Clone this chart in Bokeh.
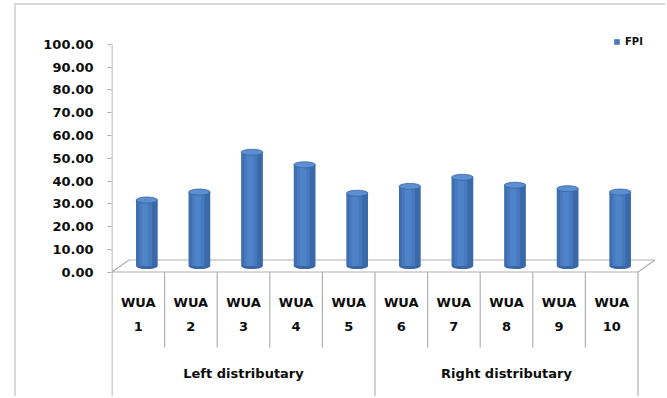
from bokeh.plotting import figure
from bokeh.models import Range1d, FixedTicker, PrintfTickFormatter, Legend, LegendItem
from bokeh.core.properties import value
from bokeh.embed import file_html
from bokeh.resources import INLINE

# ---- data ----
categories = ["WUA 1", "WUA 2", "WUA 3", "WUA 4", "WUA 5",
              "WUA 6", "WUA 7", "WUA 8", "WUA 9", "WUA 10"]
fpi = [29, 32.5, 50, 44.5, 32, 35, 39, 35.5, 34, 32.5]
groups = ["Left distributary", "Right distributary"]
group_sizes = [5, 5]
y_ticks = [0, 10, 20, 30, 40, 50, 60, 70, 80, 90, 100]
series_name = "FPI"

# ---- geometry (style) ----
n = len(categories)
DEPTH_X = 0.323
DEPTH_Y = 5.27
BAR_W = 0.41
CAP_H = 2.64
Y_START = -55.6
Y_END = 117.14
FONT = value("DejaVu Sans")
TXT = "#0d0d0d"
LINE = "#b0b0b0"

p = figure(width=651, height=393,
           x_range=Range1d(-0.0095, 10.561), y_range=Range1d(Y_START, Y_END),
           output_backend="svg", toolbar_location=None,
           min_border_left=95, min_border_right=0, min_border_top=0, min_border_bottom=0,
           margin=(3, 0, 0, 14))
p.styles = {"border-top": "2px solid #d9d9d9", "border-left": "2px solid #d9d9d9"}
p.outline_line_color = None
p.xaxis.visible = False
p.xgrid.visible = False
p.ygrid.visible = False
p.background_fill_color = "white"
p.border_fill_color = "white"

ya = p.yaxis[0]
ya.ticker = FixedTicker(ticks=y_ticks)
ya.formatter = PrintfTickFormatter(format="%.2f")
ya.axis_line_color = None
ya.major_tick_in = 0
ya.major_tick_out = 4
ya.major_tick_line_color = LINE
ya.minor_tick_line_color = None
ya.major_label_standoff = 14
ya.major_label_text_font = "DejaVu Sans"
ya.major_label_text_font_style = "bold"
ya.major_label_text_font_size = "13px"
ya.major_label_text_color = TXT

# floor
p.patch([0, n, n + DEPTH_X, DEPTH_X], [0, 0, DEPTH_Y, DEPTH_Y],
        fill_color="white", line_color=LINE, line_width=1.2)

# axis line
p.segment(x0=[0], y0=[y_ticks[-1]], x1=[0], y1=[Y_START], line_color=LINE, line_width=1.2)

# dividers
bounds = list(range(n + 1))
group_bounds = [0]
for s in group_sizes:
    group_bounds.append(group_bounds[-1] + s)
inner = [b for b in bounds if b not in group_bounds]
p.segment(x0=inner, y0=[0] * len(inner), x1=inner, y1=[-33.2] * len(inner),
          line_color=LINE, line_width=1.2)
gb = group_bounds[1:]
p.segment(x0=gb, y0=[0] * len(gb), x1=gb, y1=[Y_START] * len(gb),
          line_color=LINE, line_width=1.2)

# cylinders
xc = [i + 0.5 + DEPTH_X / 2 for i in range(n)]
base = DEPTH_Y / 2
tops = [base + v for v in fpi]
p.ellipse(x=xc, y=[base] * n, width=BAR_W, height=CAP_H, fill_color="#3a67a4", line_color=None)
body = p.vbar(x=xc, width=BAR_W, bottom=base, top=tops, fill_color="#4679bd", line_color=None)
p.vbar(x=[x + BAR_W * 0.37 for x in xc], width=BAR_W * 0.26, bottom=base, top=tops,
       fill_color="#325d98", fill_alpha=0.55, line_color=None)
p.vbar(x=[x - BAR_W * 0.43 for x in xc], width=BAR_W * 0.14, bottom=base, top=tops,
       fill_color="#325d98", fill_alpha=0.35, line_color=None)
p.vbar(x=[x - BAR_W * 0.08 for x in xc], width=BAR_W * 0.3, bottom=base, top=tops,
       fill_color="#5c90d3", fill_alpha=0.45, line_color=None)
p.ellipse(x=xc, y=tops, width=BAR_W, height=CAP_H, fill_color="#5c8fd1",
          line_color="#36649f", line_width=0.8)

# category labels
p.text(x=[i + 0.5 for i in range(n)], y=[-18.8] * n,
       text=[c.replace(" ", "\n") for c in categories],
       text_align="center", text_baseline="middle", text_line_height=1.6,
       text_font=FONT, text_font_style="bold", text_font_size="13px", text_color=TXT)

# group labels
gcent = [(group_bounds[i] + group_bounds[i + 1]) / 2 for i in range(len(groups))]
p.text(x=gcent, y=[-44.6] * len(groups), text=groups,
       text_align="center", text_baseline="middle",
       text_font=FONT, text_font_style="bold", text_font_size="13px", text_color=TXT)

legend = Legend(items=[LegendItem(label=series_name, renderers=[body])],
                location=(502, 350), border_line_color=None, background_fill_alpha=0,
                padding=0, margin=0, spacing=0, glyph_width=7, glyph_height=7,
                label_height=14, label_standoff=5, label_text_font="DejaVu Sans",
                label_text_font_style="bold", label_text_font_size="10px",
                label_text_color=TXT)
p.add_layout(legend)

open("out.html", "w").write(file_html(p, INLINE))
